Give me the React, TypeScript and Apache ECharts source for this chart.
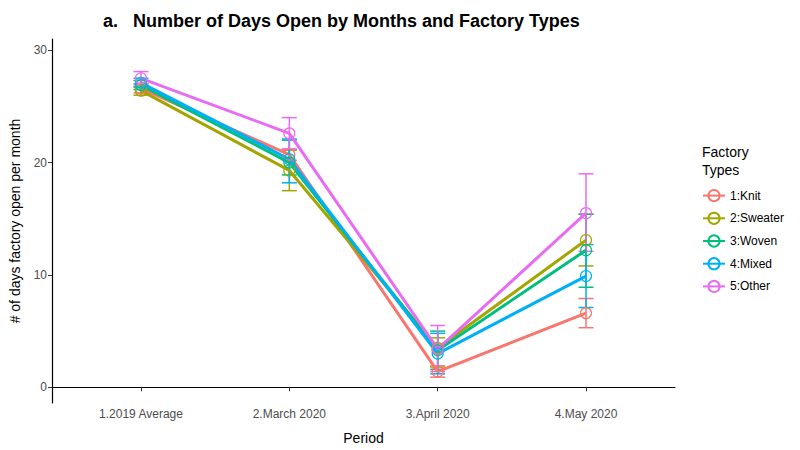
import React, { useEffect, useRef } from "react";
import * as echarts from "echarts";

const categories = ["1.2019 Average", "2.March 2020", "3.April 2020", "4.May 2020"];
const factoryTypes = ["1:Knit", "2:Sweater", "3:Woven", "4:Mixed", "5:Other"];
const colors = ["#F8766D", "#A3A500", "#00BF7D", "#00B0F6", "#E76BF3"];
const yTicks = [0, 10, 20, 30];

const knitMean = [26.6, 20.7, 1.4, 6.6];
const knitLow = [26.2, 20.2, 0.9, 5.3];
const knitHigh = [27.0, 21.2, 1.9, 7.9];

const sweaterMean = [26.4, 19.3, 3.5, 13.1];
const sweaterLow = [26.0, 17.5, 1.8, 10.8];
const sweaterHigh = [26.8, 21.1, 4.4, 15.4];

const wovenMean = [26.9, 20.0, 3.3, 12.2];
const wovenLow = [26.5, 18.9, 1.6, 8.9];
const wovenHigh = [27.3, 22.0, 5.0, 15.4];

const mixedMean = [27.1, 20.3, 3.0, 9.9];
const mixedLow = [26.7, 18.2, 1.2, 7.1];
const mixedHigh = [27.5, 22.1, 4.8, 12.7];

const otherMean = [27.5, 22.6, 3.4, 15.5];
const otherLow = [27.0, 21.2, 1.4, 12.1];
const otherHigh = [28.1, 24.0, 5.5, 19.0];

const means = [knitMean, sweaterMean, wovenMean, mixedMean, otherMean];
const lows = [knitLow, sweaterLow, wovenLow, mixedLow, otherLow];
const highs = [knitHigh, sweaterHigh, wovenHigh, mixedHigh, otherHigh];

const FONT = "Liberation Sans, Arial, sans-serif";

export default function App() {
  const ref = useRef<HTMLDivElement>(null);
  useEffect(() => {
    const chart = echarts.init(ref.current!, null, { renderer: "svg" });
    const errSeries = factoryTypes.map((t, i) => ({
      type: "custom",
      name: t + " error",
      z: 2,
      data: categories.map((_, k) => [k + 1, lows[i][k], highs[i][k]]),
      encode: { x: 0, y: [1, 2] },
      renderItem: (params: any, api: any) => {
        const x = api.value(0);
        const lo = api.coord([x, api.value(1)]);
        const hi = api.coord([x, api.value(2)]);
        const hw = 7.5;
        const st = { stroke: colors[i], lineWidth: 1.5 };
        return {
          type: "group",
          children: [
            { type: "line", shape: { x1: lo[0], y1: lo[1], x2: hi[0], y2: hi[1] }, style: st },
            { type: "line", shape: { x1: lo[0] - hw, y1: lo[1], x2: lo[0] + hw, y2: lo[1] }, style: st },
            { type: "line", shape: { x1: hi[0] - hw, y1: hi[1], x2: hi[0] + hw, y2: hi[1] }, style: st },
          ],
        };
      },
    }));
    const lineSeries = factoryTypes.map((t, i) => ({
      type: "line",
      name: t,
      z: 3,
      data: categories.map((_, k) => [k + 1, means[i][k]]),
      symbol: "circle",
      symbolSize: 11,
      showAllSymbol: true,
      lineStyle: { color: colors[i], width: 3 },
      itemStyle: { color: "rgba(255,255,255,0)", borderColor: colors[i], borderWidth: 1.2 },
      emphasis: { disabled: true },
    }));
    chart.setOption({
      animation: false,
      textStyle: { fontFamily: FONT },
      title: [
        {
          text: "a.   Number of Days Open by Months and Factory Types",
          left: 98,
          top: 7,
          textStyle: { fontSize: 18, fontWeight: "bold", color: "#000", fontFamily: FONT },
        },
        {
          text: "Factory\nTypes",
          left: 697,
          top: 138,
          textStyle: { fontSize: 14, fontWeight: "normal", color: "#000", lineHeight: 18, fontFamily: FONT },
        },
      ],
      legend: {
        data: factoryTypes,
        orient: "vertical",
        left: 697,
        top: 184,
        itemWidth: 22,
        itemHeight: 14,
        itemGap: 9.5,
        textStyle: { fontSize: 12, color: "#000", fontFamily: FONT },
        selectedMode: false,
      },
      grid: { left: 45, right: 125, top: 39, bottom: 45, containLabel: false },
      xAxis: {
        type: "value",
        min: 0.4,
        max: 4.6,
        name: "Period",
        nameLocation: "middle",
        nameGap: 28,
        nameTextStyle: { fontSize: 14, color: "#000" },
        splitLine: { show: false },
        axisLine: { show: true, lineStyle: { color: "#000", width: 1.2 } },
        axisTick: { show: true, customValues: [1, 2, 3, 4], length: 4, lineStyle: { color: "#333" } },
        axisLabel: {
          customValues: [1, 2, 3, 4],
          formatter: (v: number) => categories[Math.round(v) - 1] ?? "",
          fontSize: 12,
          color: "#4d4d4d",
          margin: 5,
        },
      },
      yAxis: {
        type: "value",
        min: -1.4,
        max: 31,
        name: "# of days factory open per month",
        nameLocation: "middle",
        nameGap: 30,
        nameRotate: 90,
        nameTextStyle: { fontSize: 14, color: "#000" },
        splitLine: { show: false },
        axisLine: { show: true, lineStyle: { color: "#000", width: 1.2 } },
        axisTick: { show: true, customValues: yTicks, length: 4, lineStyle: { color: "#333" } },
        axisLabel: { customValues: yTicks, fontSize: 12, color: "#4d4d4d", margin: 5 },
      },
      series: [...errSeries, ...lineSeries],
    });
    return () => chart.dispose();
  }, []);
  return (
    <div
      ref={ref}
      style={{ position: "absolute", left: 0, top: 0, width: 800, height: 450 }}
    />
  );
}
